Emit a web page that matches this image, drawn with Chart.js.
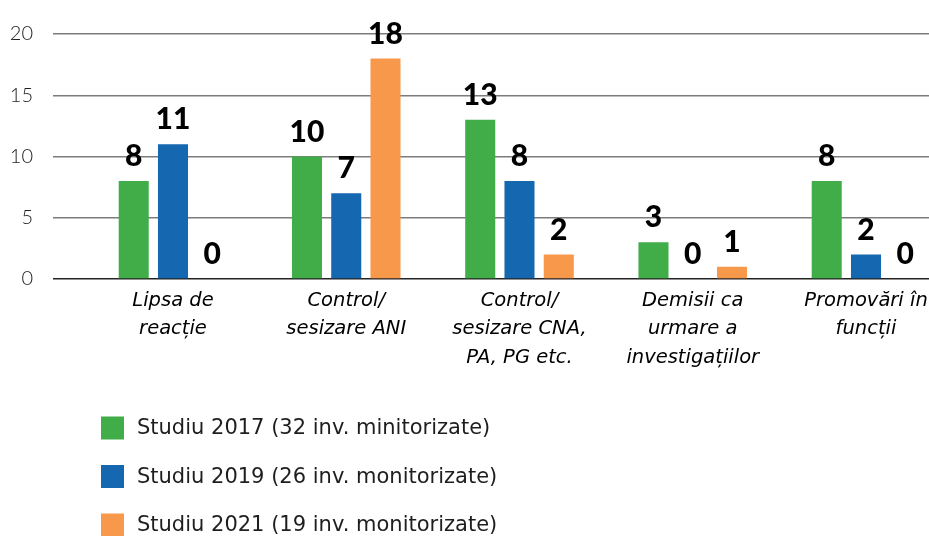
<!DOCTYPE html>
<html>
<head>
<meta charset="utf-8">
<script src="https://cdn.jsdelivr.net/npm/chart.js@4.4.1/dist/chart.umd.min.js"></script>
<style>
    html, body { margin: 0; padding: 0; background: #fff; }
    #wrap { width: 929px; height: 536px; position: relative; }
</style>
</head>
<body>
<div id="wrap"><canvas id="grafic"></canvas></div>
<script>
// Categorii (etichetele de pe axa X, pe rânduri)
const categorii = [
    ['Lipsa de', 'reacție'],
    ['Control/', 'sesizare ANI'],
    ['Control/', 'sesizare CNA,', 'PA, PG etc.'],
    ['Demisii ca', 'urmare a', 'investigațiilor'],
    ['Promovări în', 'funcții']
];

const studiu2017 = [8, 10, 13, 3, 8];
const studiu2019 = [11, 7, 8, 0, 2];
const studiu2021 = [0, 18, 2, 1, 0];

const etichete = [
    'Studiu 2017 (32 inv. minitorizate)',
    'Studiu 2019 (26 inv. monitorizate)',
    'Studiu 2021 (19 inv. monitorizate)'
];

const yTicks = [0, 5, 10, 15, 20];

const culori = ['#41AD49', '#1567B0', '#F7984A'];
const textColor = '#1e1e1e';
const gridColor = '#7c7c7c';

const toPoints = (values) => values.map((v, i) => ({ x: i, y: v }));

const seriiValori = [studiu2017, studiu2019, studiu2021];

const data = {
    datasets: seriiValori.map((valori, i) => ({
        label: etichete[i],
        data: toPoints(valori),
        backgroundColor: culori[i],
        borderWidth: 0,
        categoryPercentage: 0.68,
        barPercentage: 0.765
    }))
};

// valorile deasupra barelor
const valueLabels = {
    id: 'valueLabels',
    afterDatasetsDraw(chart) {
        const ctx = chart.ctx;
        ctx.save();
        ctx.fillStyle = '#000';
        ctx.font = '900 30px Lato';
        ctx.textAlign = 'center';
        ctx.textBaseline = 'alphabetic';
        chart.data.datasets.forEach((ds, di) => {
            const meta = chart.getDatasetMeta(di);
            meta.data.forEach((bar, i) => {
                ctx.fillText(String(ds.data[i].y), bar.x, bar.y - 15);
            });
        });
        ctx.restore();
    }
};

// legenda pe verticală, sub grafic
const legendaVerticala = {
    id: 'legendaVerticala',
    afterDraw(chart) {
        const ctx = chart.ctx;
        ctx.save();
        ctx.font = '21px "DejaVu Sans"';
        ctx.textBaseline = 'middle';
        chart.data.datasets.forEach((ds, i) => {
            const cy = 428 + i * 48.5;
            ctx.fillStyle = ds.backgroundColor;
            ctx.fillRect(101, cy - 11.5, 23, 23);
            ctx.fillStyle = textColor;
            ctx.fillText(ds.label, 137, cy + 1);
        });
        ctx.restore();
    }
};

const ctx = document.getElementById('grafic').getContext('2d');

new Chart(ctx, {
    type: 'bar',
    data: data,
    plugins: [valueLabels, legendaVerticala],
    options: {
        responsive: true,
        maintainAspectRatio: false,
        animation: false,
        layout: { padding: { top: 34, left: 0, right: 0, bottom: 0 } },
        plugins: {
            legend: { display: false },
            tooltip: { enabled: false }
        },
        scales: {
            x: {
                type: 'linear',
                offset: false,
                min: -0.6926,
                max: 4.3637,
                afterBuildTicks: (scale) => {
                    scale.ticks = categorii.map((c, i) => ({ value: i }));
                },
                afterFit: (scale) => { scale.height = 257; },
                ticks: {
                    autoSkip: false,
                    maxRotation: 0,
                    padding: 0,
                    color: '#000',
                    font: { family: '"DejaVu Sans"', size: 19.5, style: 'italic', weight: '200', lineHeight: 1.45 },
                    callback: (value) => categorii[Math.round(value)]
                },
                grid: { display: false },
                border: { display: false }
            },
            y: {
                min: 0,
                max: 20,
                afterBuildTicks: (scale) => {
                    scale.ticks = yTicks.map(v => ({ value: v }));
                },
                afterFit: (scale) => { scale.width = 53; },
                ticks: {
                    padding: 20,
                    color: textColor,
                    font: { family: 'Lato', size: 20, weight: '300' }
                },
                grid: {
                    drawTicks: false,
                    lineWidth: 1.5,
                    color: (c) => c.tick && c.tick.value === 0 ? '#222' : gridColor
                },
                border: { display: false }
            }
        }
    }
});
</script>
</body>
</html>
